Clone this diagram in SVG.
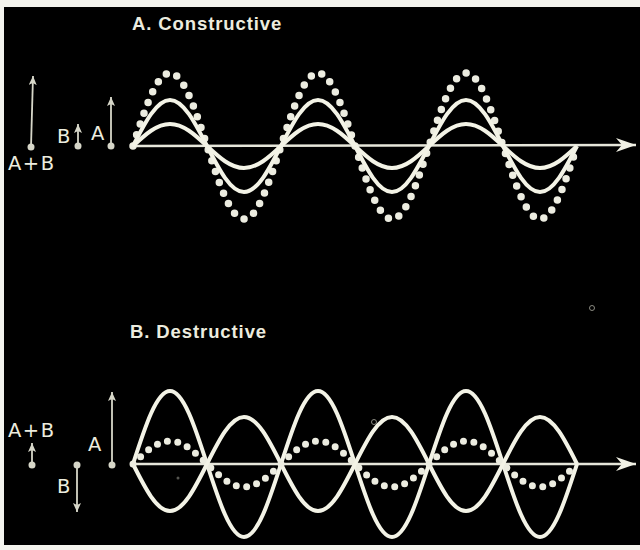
<svg xmlns="http://www.w3.org/2000/svg" width="640" height="550" viewBox="0 0 640 550">
<style>
.wave{fill:none;stroke:#f3f3e6;stroke-width:4;stroke-linejoin:round}
.dots{fill:none;stroke:#ecece0;stroke-width:7.5;stroke-linecap:round;stroke-dasharray:0 11.5}
.dots2{fill:none;stroke:#ecece0;stroke-width:7;stroke-linecap:round;stroke-dasharray:0 10.5}
.axis{fill:none;stroke:#e6e6da;stroke-width:2.5}
.vec{fill:none;stroke:#d6d6c8;stroke-width:1.8}
.base{fill:#d6d6c8}
.lbl{font-family:"DejaVu Sans","Liberation Sans",sans-serif;font-size:19.5px;fill:#ececdf}
.title{font-family:"Liberation Sans",Arial,sans-serif;font-weight:bold;font-size:18.5px;letter-spacing:0.9px;fill:#ececdf}
.speck{fill:none;stroke:#8a8a80;stroke-width:1}
</style>
<defs>
<marker id="axhead" markerUnits="userSpaceOnUse" markerWidth="24" markerHeight="16" refX="20" refY="7" orient="auto">
<path d="M0,0 L20,7 L0,14 L6,7 z" fill="#f0f0e4"/>
</marker>
<marker id="vhead" markerUnits="userSpaceOnUse" markerWidth="12" markerHeight="10" refX="9" refY="4" orient="auto">
<path d="M0,0 L9,4 L0,8 L2,4 z" fill="#d6d6c8"/>
</marker>
</defs>
<rect x="0" y="0" width="640" height="550" fill="#f4f4ee"/>
<rect x="4" y="7" width="636" height="538" fill="#000"/>

<g id="titles">
<text id="title-a" class="title" x="132" y="30">A. Constructive</text>
<text id="title-b" class="title" x="130" y="338">B. Destructive</text>
</g>

<g id="connectors">
<line class="axis" x1="130" y1="146" x2="636" y2="145" marker-end="url(#axhead)"/>
<line class="axis" x1="130" y1="464" x2="636" y2="464" marker-end="url(#axhead)"/>
<line class="vec" x1="31" y1="147" x2="33" y2="76" marker-end="url(#vhead)"/>
<line class="vec" x1="78" y1="146" x2="78" y2="124" marker-end="url(#vhead)"/>
<line class="vec" x1="111" y1="146" x2="111" y2="97" marker-end="url(#vhead)"/>
<line class="vec" x1="32" y1="465" x2="32" y2="443" marker-end="url(#vhead)"/>
<line class="vec" x1="77" y1="465" x2="77" y2="512" marker-end="url(#vhead)"/>
<line class="vec" x1="112" y1="465" x2="112" y2="392" marker-end="url(#vhead)"/>
</g>

<g id="constructive-waves">
<path id="c-sum" class="dots" d="M133,146 c12.07,-37.4 23.61,-73 37,-73 s24.93,35.6 37,73 s23.61,73 37,73 s24.93,-35.6 37,-73 s23.61,-73 37,-73 s24.93,35.6 37,73 s23.61,73 37,73 s24.93,-35.6 37,-73 s23.61,-73 37,-73 s24.93,35.6 37,73 s23.61,73 37,73 s24.93,-35.6 37,-73"/>
<path id="c-a" class="wave" d="M133,146 c12.07,-23.57 23.61,-46 37,-46 s24.93,22.43 37,46 s23.61,46 37,46 s24.93,-22.43 37,-46 s23.61,-46 37,-46 s24.93,22.43 37,46 s23.61,46 37,46 s24.93,-22.43 37,-46 s23.61,-46 37,-46 s24.93,22.43 37,46 s23.61,46 37,46 s24.93,-22.43 37,-46"/>
<path id="c-b" class="wave" d="M133,146 c12.07,-11.27 23.61,-22 37,-22 s24.93,10.73 37,22 s23.61,22 37,22 s24.93,-10.73 37,-22 s23.61,-22 37,-22 s24.93,10.73 37,22 s23.61,22 37,22 s24.93,-10.73 37,-22 s23.61,-22 37,-22 s24.93,10.73 37,22 s23.61,22 37,22 s24.93,-10.73 37,-22"/>
</g>

<g id="destructive-waves">
<path id="d-a" class="wave" d="M133,464 c12.07,-37.4 23.61,-73 37,-73 s24.93,35.6 37,73 s23.61,73 37,73 s24.93,-35.6 37,-73 s23.61,-73 37,-73 s24.93,35.6 37,73 s23.61,73 37,73 s24.93,-35.6 37,-73 s23.61,-73 37,-73 s24.93,35.6 37,73 s23.61,73 37,73 s24.93,-35.6 37,-73"/>
<path id="d-b" class="wave" d="M133,464 c12.07,24.08 23.61,47 37,47 s24.93,-22.92 37,-47 s23.61,-47 37,-47 s24.93,22.92 37,47 s23.61,47 37,47 s24.93,-22.92 37,-47 s23.61,-47 37,-47 s24.93,22.92 37,47 s23.61,47 37,47 s24.93,-22.92 37,-47 s23.61,-47 37,-47 s24.93,22.92 37,47"/>
<path id="d-sum" class="dots2" d="M133,464 c12.07,-11.78 23.61,-23 37,-23 s24.93,11.22 37,23 s23.61,23 37,23 s24.93,-11.22 37,-23 s23.61,-23 37,-23 s24.93,11.22 37,23 s23.61,23 37,23 s24.93,-11.22 37,-23 s23.61,-23 37,-23 s24.93,11.22 37,23 s23.61,23 37,23 s24.93,-11.22 37,-23"/>
</g>

<g id="vector-bases">
<circle class="base" cx="31" cy="147" r="3.5"/>
<circle class="base" cx="78" cy="146" r="3.5"/>
<circle class="base" cx="111" cy="146" r="3.5"/>
<circle class="base" cx="32" cy="465" r="3.5"/>
<circle class="base" cx="77" cy="465" r="3.5"/>
<circle class="base" cx="112" cy="465" r="3.5"/>
</g>

<g id="labels">
<text class="lbl" x="8" y="170" letter-spacing="1.5">A+B</text>
<text class="lbl" x="57" y="143">B</text>
<text class="lbl" x="91" y="140">A</text>
<text class="lbl" x="8" y="437" letter-spacing="1.5">A+B</text>
<text class="lbl" x="88" y="451">A</text>
<text class="lbl" x="57" y="493">B</text>
</g>

<g id="specks">
<circle class="speck" cx="592" cy="308" r="2.5"/>
<circle class="speck" cx="374" cy="422" r="2.5"/>
<circle cx="178" cy="478" r="1.5" fill="#555550"/>
</g>
</svg>
